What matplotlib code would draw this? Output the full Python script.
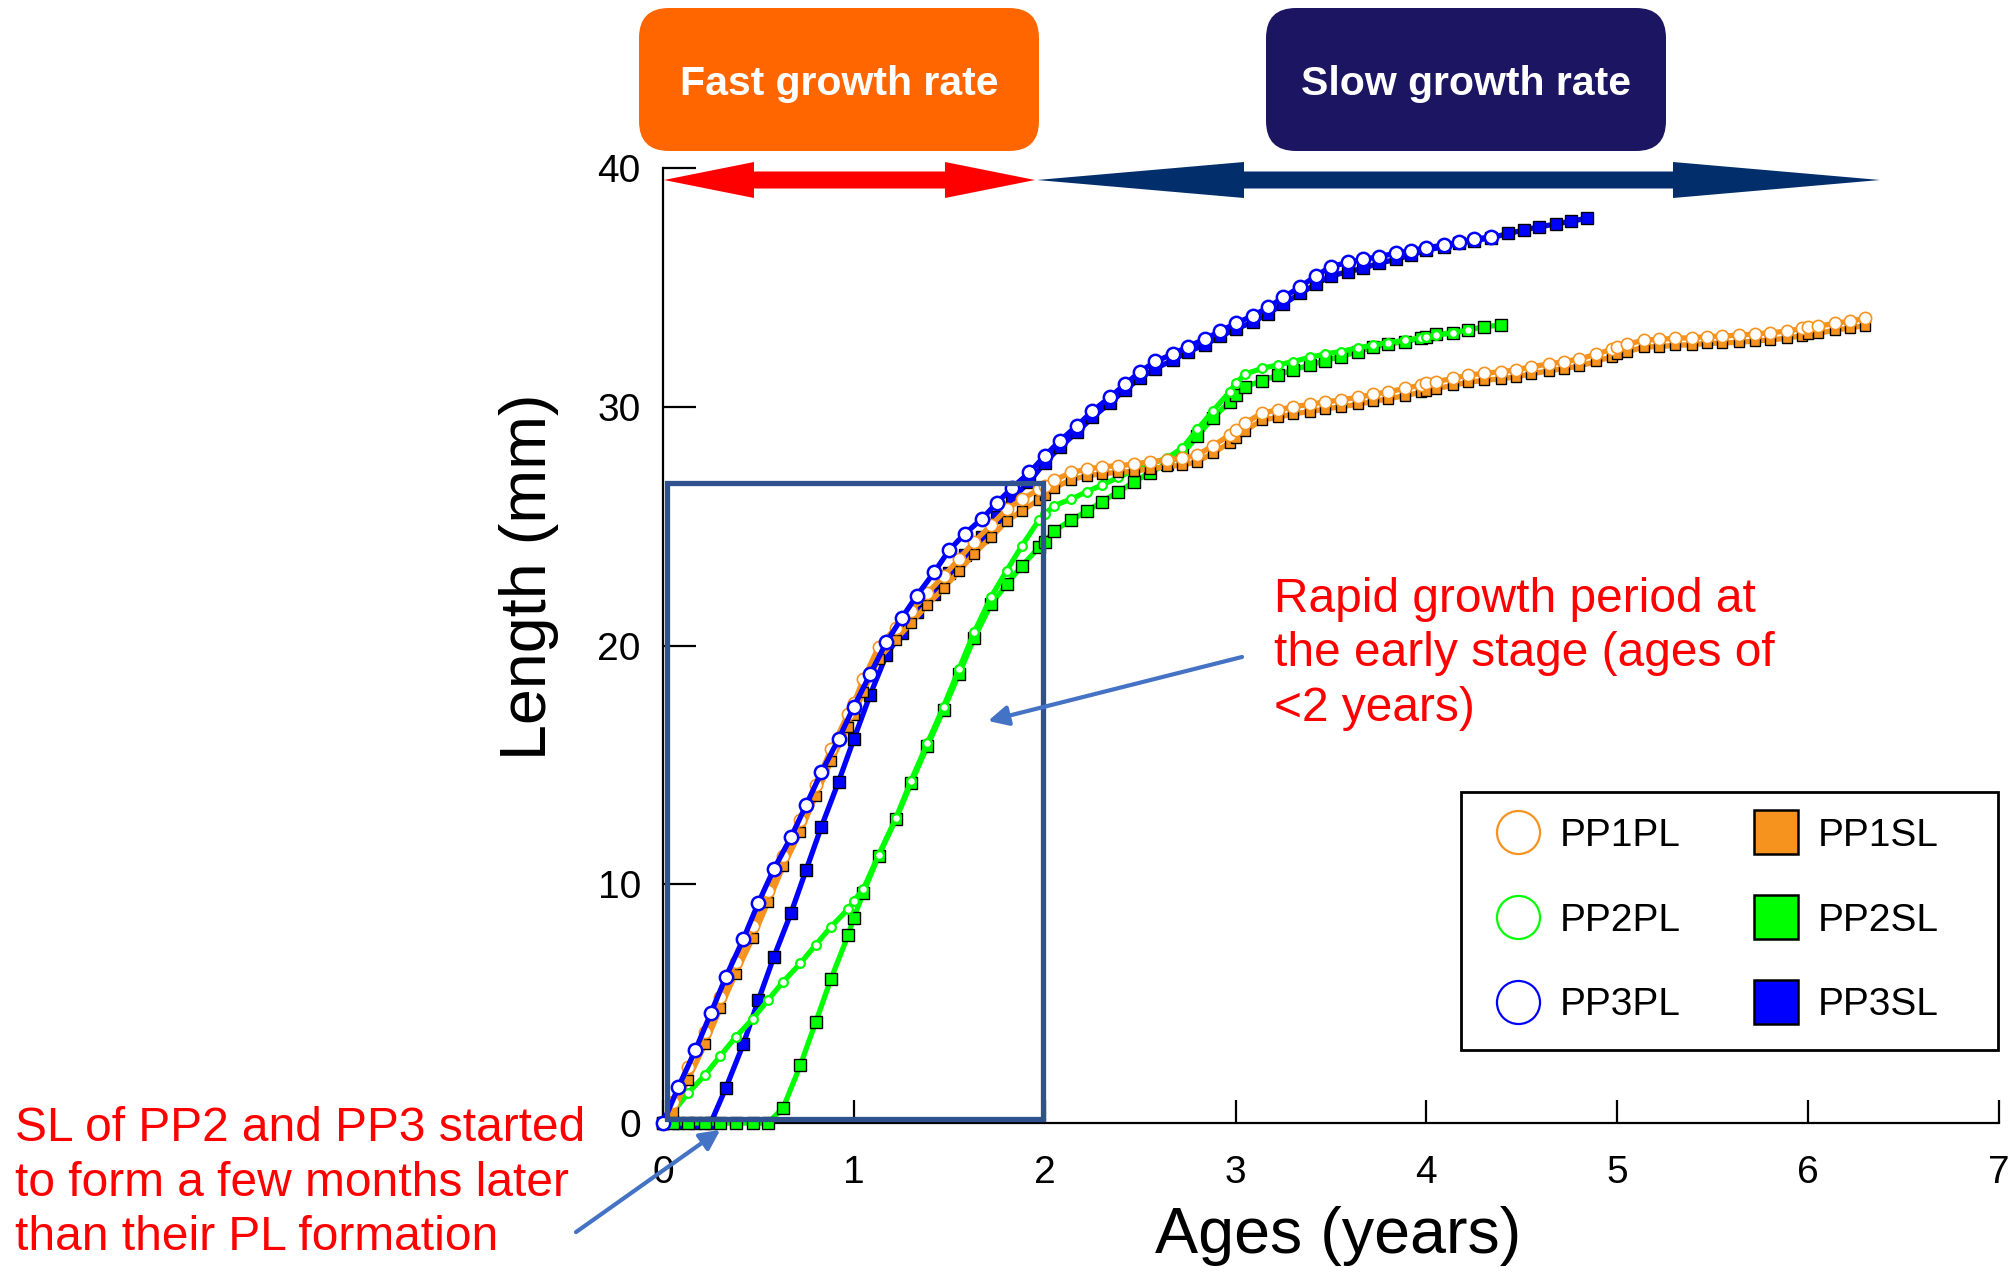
import matplotlib
matplotlib.use('Agg')
import matplotlib.pyplot as plt
from matplotlib.lines import Line2D
from matplotlib.patches import FancyBboxPatch, Polygon, Rectangle
import matplotlib.transforms as mtransforms

plt.rcParams['font.family'] = ['Liberation Sans', 'DejaVu Sans']

# ---------------- data ----------------
pp1_age = [0, 0.05, 0.13, 0.22, 0.30, 0.38, 0.47, 0.55, 0.63, 0.72, 0.80, 0.88, 0.97, 1.0, 1.05,
           1.13, 1.22, 1.30, 1.385, 1.47, 1.55, 1.63, 1.72, 1.80, 1.88, 1.97, 2.0, 2.05, 2.14, 2.22,
           2.30, 2.385, 2.47, 2.55, 2.64, 2.72, 2.80, 2.88, 2.97, 3.0, 3.05, 3.14, 3.22, 3.30, 3.39,
           3.47, 3.55, 3.64, 3.72, 3.80, 3.89, 3.97, 4.0, 4.05, 4.14, 4.22, 4.30, 4.39, 4.47, 4.55,
           4.64, 4.72, 4.80, 4.89, 4.97, 5.0, 5.05, 5.14, 5.22, 5.30, 5.39, 5.47, 5.55, 5.64, 5.72,
           5.80, 5.89, 5.97, 6.0, 6.05, 6.14, 6.22, 6.30]
pp1_pl = [0, 0.89, 2.36, 3.82, 5.29, 6.76, 8.27, 9.73, 11.20, 12.69, 14.16, 15.65, 17.13, 17.6, 18.58,
          19.95, 20.75, 21.46, 22.19, 22.91, 23.62, 24.35, 25.05, 25.70, 26.12, 26.54, 26.7, 26.93, 27.25, 27.38,
          27.49, 27.53, 27.60, 27.70, 27.77, 27.84, 27.98, 28.36, 28.82, 29.03, 29.31, 29.75, 29.86, 30.00, 30.10,
          30.21, 30.28, 30.40, 30.52, 30.63, 30.77, 30.91, 30.98, 31.05, 31.19, 31.33, 31.40, 31.47, 31.54, 31.68,
          31.79, 31.89, 32.00, 32.20, 32.41, 32.52, 32.61, 32.80, 32.82, 32.87, 32.89, 32.94, 32.96, 33.00, 33.05,
          33.10, 33.17, 33.28, 33.35, 33.38, 33.49, 33.59, 33.70]
pp1_sl = [0, 0.45, 1.8, 3.3, 4.8, 6.25, 7.75, 9.25, 10.75, 12.2, 13.7, 15.15, 16.6, 17.1, 18.05,
          19.45, 20.25, 20.95, 21.7, 22.4, 23.1, 23.85, 24.55, 25.2, 25.65, 26.1, 26.3, 26.6, 26.95, 27.1,
          27.2, 27.25, 27.3, 27.4, 27.5, 27.55, 27.7, 28.05, 28.5, 28.7, 29.0, 29.45, 29.55, 29.7, 29.8,
          29.9, 30.0, 30.1, 30.22, 30.33, 30.47, 30.6, 30.68, 30.75, 30.9, 31.03, 31.1, 31.17, 31.25, 31.38,
          31.5, 31.6, 31.7, 31.9, 32.1, 32.22, 32.3, 32.5, 32.52, 32.57, 32.6, 32.65, 32.67, 32.7, 32.75,
          32.8, 32.87, 32.98, 33.05, 33.08, 33.2, 33.3, 33.4]

pp2_pl_age = pp1_age[:56]
pp2_pl = [0, 0.43, 1.24, 2.01, 2.81, 3.59, 4.36, 5.15, 5.92, 6.69, 7.46, 8.22, 8.96, 9.31, 9.80,
          11.23, 12.76, 14.34, 15.90, 17.44, 19.0, 20.55, 22.05, 23.13, 24.17, 25.26, 25.5, 25.86, 26.14, 26.44,
          26.72, 27.04, 27.35, 27.6, 27.85, 28.26, 29.05, 29.82, 30.63, 30.98, 31.37, 31.61, 31.75, 31.89, 32.07,
          32.21, 32.31, 32.47, 32.58, 32.69, 32.78, 32.89, 32.93, 33.0, 33.1, 33.21]
pp2_sl_age = pp1_age[:58]
pp2_sl = [0, 0, 0, 0, 0, 0, 0, 0, 0.64, 2.43, 4.22, 6.03, 7.87, 8.60, 9.65,
          11.20, 12.72, 14.23, 15.79, 17.30, 18.79, 20.30, 21.74, 22.56, 23.33, 24.11, 24.35, 24.81, 25.26, 25.63,
          26.02, 26.44, 26.86, 27.24, 27.6, 28.0, 28.77, 29.52, 30.21, 30.49, 30.84, 31.09, 31.33, 31.54, 31.75,
          31.93, 32.10, 32.31, 32.49, 32.63, 32.73, 32.87, 32.93, 33.03, 33.1, 33.21, 33.35, 33.42]

pp3_pl_age = [0, 0.08, 0.17, 0.25, 0.33, 0.42, 0.50, 0.58, 0.67, 0.75, 0.83, 0.92, 1.0, 1.085, 1.17,
              1.25, 1.33, 1.42, 1.50, 1.58, 1.67, 1.75, 1.83, 1.92, 2.0, 2.08, 2.17, 2.25, 2.34, 2.42,
              2.50, 2.58, 2.67, 2.75, 2.84, 2.92, 3.0, 3.09, 3.17, 3.25, 3.34, 3.42, 3.50, 3.59, 3.67,
              3.75, 3.84, 3.92, 4.0, 4.09, 4.17, 4.25, 4.34]
pp3_pl = [0, 1.49, 3.06, 4.59, 6.13, 7.69, 9.23, 10.62, 11.96, 13.32, 14.69, 16.08, 17.44, 18.79, 20.13,
          21.14, 22.09, 23.06, 24.0, 24.67, 25.30, 25.98, 26.61, 27.25, 27.94, 28.58, 29.21, 29.82, 30.39, 30.94,
          31.47, 31.9, 32.2, 32.52, 32.84, 33.17, 33.49, 33.81, 34.16, 34.58, 35.03, 35.48, 35.87, 36.05, 36.17,
          36.29, 36.43, 36.54, 36.66, 36.77, 36.89, 37.01, 37.12]
pp3_sl_age = pp3_pl_age + [4.43, 4.51, 4.59, 4.68, 4.76, 4.84]
pp3_sl = [0, 0, 0, 0, 1.48, 3.29, 5.15, 6.94, 8.78, 10.60, 12.41, 14.3, 16.08, 17.93, 19.60,
          20.54, 21.39, 22.16, 23.02, 23.79, 24.56, 25.40, 26.16, 26.86, 27.66, 28.3, 28.95, 29.55, 30.15, 30.7,
          31.2, 31.6, 31.95, 32.3, 32.6, 32.95, 33.25, 33.55, 33.9, 34.3, 34.75, 35.13, 35.48, 35.66, 35.80,
          36.01, 36.17, 36.36, 36.56, 36.70, 36.84, 36.96, 37.08, 37.26, 37.40, 37.54, 37.65, 37.78, 37.89]

x_ticks = [0, 1, 2, 3, 4, 5, 6, 7]
y_ticks = [0, 10, 20, 30, 40]
labels_pl = ['PP1PL', 'PP2PL', 'PP3PL']
labels_sl = ['PP1SL', 'PP2SL', 'PP3SL']

ORANGE = '#F6921E'
GREEN = '#00FF00'
BLUE = '#0000FF'

# ---------------- figure ----------------
W, H = 2012, 1272
fig = plt.figure(figsize=(W / 100, H / 100), dpi=100)
pix = mtransforms.Affine2D().scale(1.0 / W, -1.0 / H).translate(0, 1) + fig.transFigure

ax = fig.add_axes([663 / W, 1 - 1123 / H, (1999 - 663) / W, (1123 - 168) / H])
ax.set_xlim(0, 7)
ax.set_ylim(0, 40)
ax.spines['top'].set_visible(False)
ax.spines['right'].set_visible(False)
for s in ('left', 'bottom'):
    ax.spines[s].set_linewidth(1.6)
ax.set_xticks(x_ticks)
ax.set_yticks(y_ticks)
ax.tick_params(axis='y', direction='in', length=23.5, width=1.6, labelsize=28, pad=16)
ax.tick_params(axis='x', direction='in', length=16.5, width=1.6, labelsize=28, pad=23)

lw = 3.8
# PP3SL
ax.plot(pp3_sl_age, pp3_sl, color=BLUE, lw=lw, marker='s', ms=8.6, mfc=BLUE, mec='black',
        mew=1.0, clip_on=False, zorder=3)
# PP2SL
ax.plot(pp2_sl_age, pp2_sl, color=GREEN, lw=lw, marker='s', ms=8.0, mfc=GREEN, mec='black',
        mew=1.0, clip_on=False, zorder=3.1)
# PP2PL
ax.plot(pp2_pl_age, pp2_pl, color=GREEN, lw=lw, marker='o', ms=6.3, mfc='white', mec=GREEN,
        mew=1.6, clip_on=False, zorder=3.2)
# PP1SL
ax.plot(pp1_age, pp1_sl, color=ORANGE, lw=lw, marker='s', ms=7.8, mfc=ORANGE, mec='black',
        mew=1.0, clip_on=False, zorder=3.3)
# PP1PL
ax.plot(pp1_age, pp1_pl, color=ORANGE, lw=lw, marker='o', ms=8.8, mfc='white', mec=ORANGE,
        mew=1.2, clip_on=False, zorder=3.4)
# PP3PL
ax.plot(pp3_pl_age, pp3_pl, color=BLUE, lw=lw, marker='o', ms=9.6, mfc='white', mec=BLUE,
        mew=1.8, clip_on=False, zorder=3.5)

# highlight rectangle (< 2 years)
ax.add_patch(Rectangle((0.02, 0.15), 1.97, 26.67, fill=False, ec='#2F528F', lw=3.8,
                       zorder=10, clip_on=False))

# axis labels
ax.set_xlabel('Ages (years)', fontsize=46.5)
ax.xaxis.set_label_coords(0.505, -0.0865)
ax.set_ylabel('Length (mm)', fontsize=46.5)
ax.yaxis.set_label_coords(-0.078, 0.572)

# legend (frame drawn separately so its box matches the original extent)
handles = [Line2D([], [], ls='none', marker='o', ms=31, mfc='white', mec=c, mew=1.6)
           for c in (ORANGE, GREEN, BLUE)]
handles += [Line2D([], [], ls='none', marker='s', ms=31, mfc=c, mec='black', mew=1.8)
            for c in (ORANGE, GREEN, BLUE)]
leg = ax.legend(handles, labels_pl + labels_sl, ncol=2, fontsize=28,
                loc='upper left', bbox_to_anchor=(1461 / W, 1 - 792 / H),
                bbox_transform=fig.transFigure, borderaxespad=0,
                frameon=False,
                handlelength=1.6, handletextpad=0.28, columnspacing=1.64,
                borderpad=0.67, labelspacing=1.25)
leg.set_zorder(20)
fig.add_artist(Rectangle((1461, 792), 537, 258, transform=pix, fill=False,
                         ec='black', lw=2.0))

# top rounded boxes
for (x0, col, txt) in ((639, '#FF6600', 'Fast growth rate'), (1266, '#1C1662', 'Slow growth rate')):
    box = FancyBboxPatch((x0, 8), 400, 143, boxstyle='round,pad=0,rounding_size=30',
                         transform=pix, fc=col, ec='none')
    fig.add_artist(box)
    fig.text(x0 + 200, 84, txt, transform=pix, ha='center', va='center', color='white',
             fontsize=29.5, fontweight='bold')


def double_arrow(x1, x2, y, t, hw, hl, color):
    verts = [(x1, y), (x1 + hl, y - hw / 2), (x1 + hl, y - t / 2), (x2 - hl, y - t / 2),
             (x2 - hl, y - hw / 2), (x2, y), (x2 - hl, y + hw / 2), (x2 - hl, y + t / 2),
             (x1 + hl, y + t / 2), (x1 + hl, y + hw / 2)]
    fig.add_artist(Polygon(verts, closed=True, transform=pix, fc=color, ec='none'))


double_arrow(664, 1035, 180, 17, 36, 90, '#FF0000')
double_arrow(1037, 1880, 180, 17, 36, 207, '#022F6B')

# annotations
fig.text(1274, 654, 'Rapid growth period at\nthe early stage (ages of\n<2 years)', transform=pix,
         ha='left', va='center', fontsize=34.5, color='#FF0000', linespacing=1.27)
fig.text(15, 1183, 'SL of PP2 and PP3 started\nto form a few months later\nthan their PL formation',
         transform=pix, ha='left', va='center', fontsize=34.5, color='#FF0000', linespacing=1.27)

arrow_kw = dict(arrowstyle='-|>', color='#4472C4', lw=3, mutation_scale=30, shrinkA=0, shrinkB=0)
ax.annotate('', xy=(1.703, 16.84), xytext=(3.034, 19.52), arrowprops=arrow_kw,
            annotation_clip=False, zorder=11)
ax.annotate('', xy=(0.30, -0.29), xytext=(-0.456, -4.57), arrowprops=arrow_kw,
            annotation_clip=False, zorder=11)

fig.savefig('out.png', dpi=100)
